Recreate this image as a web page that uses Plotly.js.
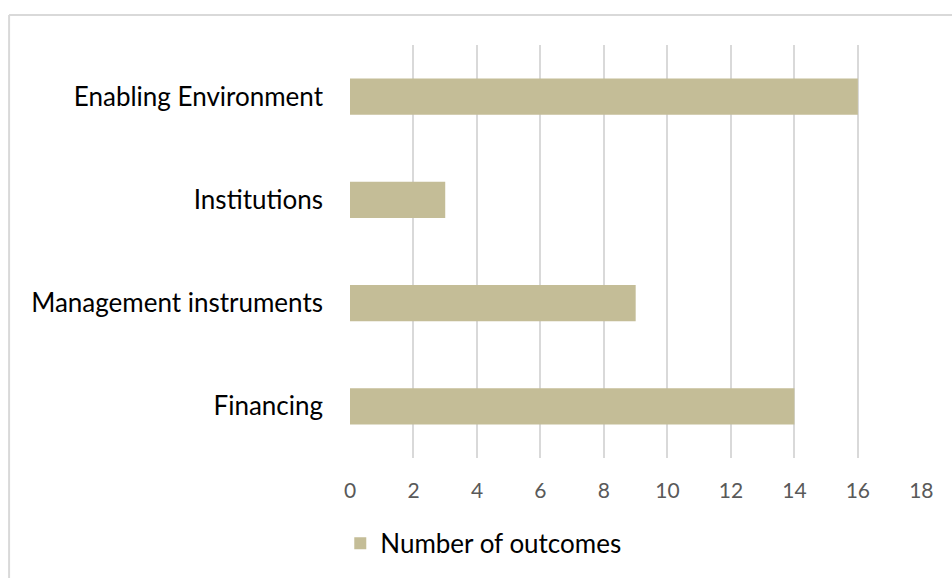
<!DOCTYPE html>
<html><head><meta charset="utf-8">
<script src="https://cdn.plot.ly/plotly-3.0.1.min.js"></script>
<style>html,body{margin:0;padding:0;background:#fff}</style>
</head><body><div id="chart" style="width:952px;height:578px"></div>
<script>
const categories = ["Financing", "Management instruments", "Institutions", "Enabling Environment"];
const outcomes = [14, 9, 3, 16];
const seriesName = "Number of outcomes";
const xTicks = [0, 2, 4, 6, 8, 10, 12, 14, 16, 18];

const trace = {
  type: "bar", orientation: "h",
  y: categories, x: outcomes, name: seriesName,
  marker: {color: "#c4bd97"},
  showlegend: true, hoverinfo: "skip"
};
const layout = {
  width: 952, height: 578,
  margin: {l: 350, r: 30, t: 45, b: 120, autoexpand: false},
  paper_bgcolor: "#fff", plot_bgcolor: "#fff",
  font: {family: "Lato, 'Open Sans', sans-serif"},
  bargap: 0.65,
  xaxis: {range: [0, 18.02], tickvals: xTicks, showgrid: true, gridcolor: "#d9d9d9", gridwidth: 2,
          zeroline: false, showline: false, ticks: "", ticklabelstandoff: 18,
          tickfont: {size: 21, color: "#595959"}, fixedrange: true, automargin: false},
  yaxis: {showgrid: false, zeroline: false, ticks: "", ticklabelstandoff: 26,
          tickfont: {size: 26, color: "#000"}, fixedrange: true, automargin: false},
  showlegend: true,
  legend: {orientation: "h", x: -0.017, xanchor: "left", y: -0.15, yanchor: "top",
           font: {size: 26, color: "#000"}},
  shapes: [
    {type: "line", xref: "paper", yref: "paper", x0: -0.596, x1: 1.1, y0: 1.0726, y1: 1.0726,
     line: {color: "#d9d9d9", width: 2}},
    {type: "line", xref: "paper", yref: "paper", x0: -0.596, x1: -0.596, y0: 1.0726, y1: -0.4,
     line: {color: "#d9d9d9", width: 2}}
  ]
};
Plotly.newPlot("chart", [trace], layout, {staticPlot: true, displayModeBar: false});
</script></body></html>
